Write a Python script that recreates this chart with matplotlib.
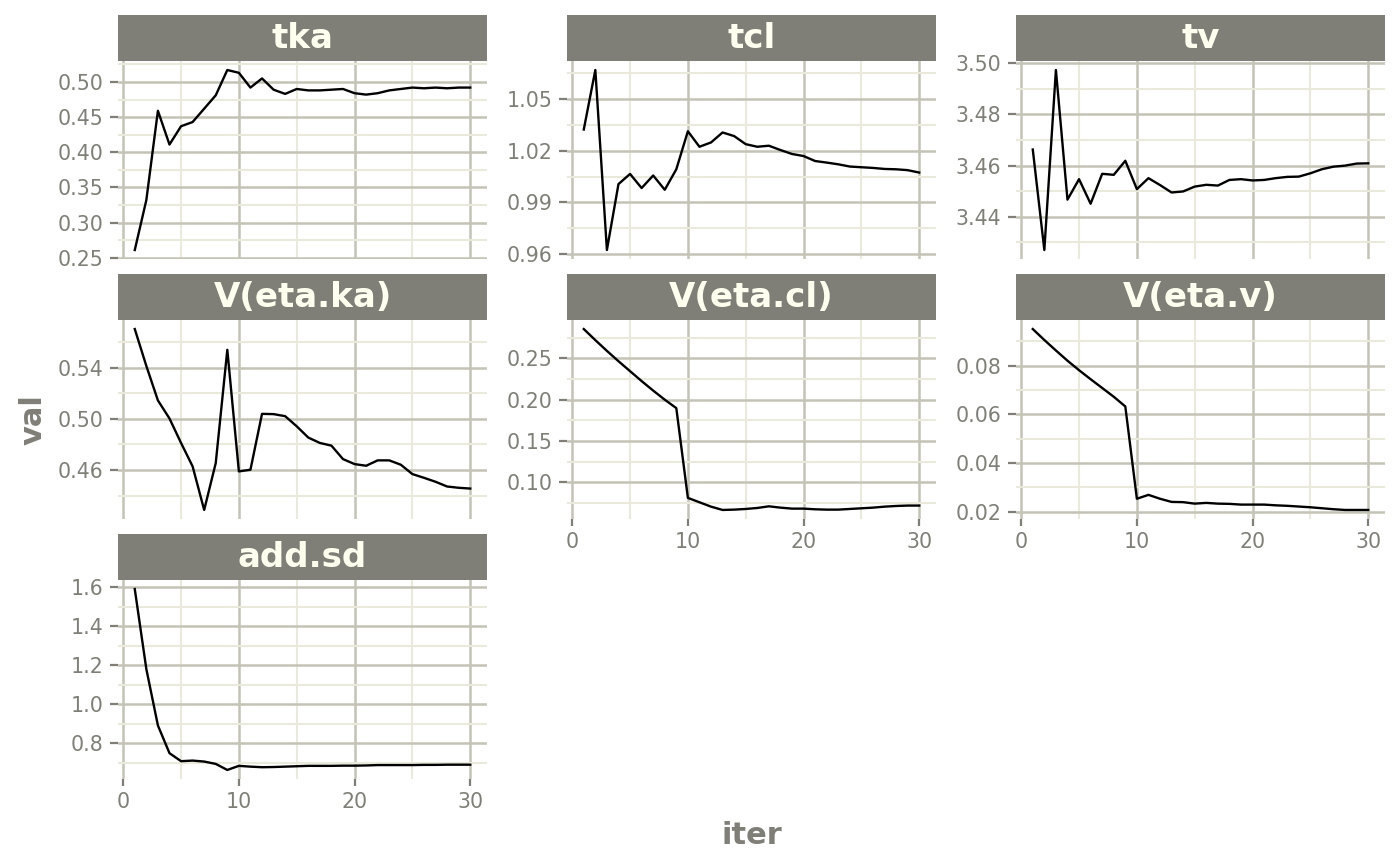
import matplotlib
matplotlib.use("Agg")
import matplotlib.pyplot as plt
from matplotlib.ticker import FixedLocator, MultipleLocator, FormatStrFormatter

# --- data (30 iterations) ---
iters = list(range(1, 31))

tka = [0.261, 0.332, 0.459, 0.411, 0.437, 0.443, 0.462, 0.481, 0.517, 0.513,
       0.492, 0.505, 0.489, 0.483, 0.490, 0.488, 0.488, 0.489, 0.490, 0.484,
       0.482, 0.484, 0.488, 0.490, 0.492, 0.491, 0.492, 0.491, 0.492, 0.492]

tcl = [1.0323, 1.0669, 0.9623, 1.0006, 1.0065, 0.9983, 1.0056, 0.9973, 1.0092, 1.0313,
       1.0223, 1.0248, 1.0306, 1.0285, 1.0238, 1.0223, 1.0229, 1.0204, 1.0181, 1.0169,
       1.0140, 1.0131, 1.0121, 1.0108, 1.0104, 1.0100, 1.0094, 1.0092, 1.0087, 1.0073]

tv = [3.4663, 3.4270, 3.4974, 3.4467, 3.4547, 3.4451, 3.4568, 3.4564, 3.4619, 3.4508,
      3.4551, 3.4524, 3.4495, 3.4499, 3.4518, 3.4525, 3.4522, 3.4544, 3.4547, 3.4542,
      3.4544, 3.4551, 3.4556, 3.4557, 3.4570, 3.4586, 3.4596, 3.4600, 3.4608, 3.4609]

eta_ka = [0.5701, 0.5413, 0.5144, 0.5003, 0.4812, 0.4629, 0.4289, 0.4655, 0.5539, 0.4590,
          0.4603, 0.5039, 0.5037, 0.5021, 0.4942, 0.4854, 0.4812, 0.4791, 0.4686, 0.4647,
          0.4634, 0.4676, 0.4676, 0.4642, 0.4569, 0.4540, 0.4509, 0.4472, 0.4462, 0.4456]

eta_cl = [0.2854, 0.2720, 0.2590, 0.2465, 0.2345, 0.2225, 0.2110, 0.2000, 0.1898, 0.0813,
          0.0760, 0.0707, 0.0667, 0.0671, 0.0679, 0.0691, 0.0711, 0.0695, 0.0683, 0.0683,
          0.0675, 0.0671, 0.0671, 0.0679, 0.0687, 0.0695, 0.0707, 0.0715, 0.0720, 0.0720]

eta_v = [0.0950, 0.0905, 0.0862, 0.0820, 0.0781, 0.0744, 0.0708, 0.0672, 0.0632, 0.0253,
         0.0269, 0.0253, 0.0240, 0.0239, 0.0233, 0.0236, 0.0233, 0.0232, 0.0229, 0.0229,
         0.0229, 0.0226, 0.0224, 0.0221, 0.0218, 0.0214, 0.0210, 0.0207, 0.0207, 0.0207]

add_sd = [1.590, 1.180, 0.891, 0.749, 0.708, 0.711, 0.706, 0.694, 0.663, 0.684,
          0.680, 0.677, 0.678, 0.680, 0.682, 0.684, 0.684, 0.684, 0.685, 0.685,
          0.686, 0.688, 0.688, 0.688, 0.688, 0.689, 0.689, 0.690, 0.690, 0.690]

names = ["tka", "tcl", "tv", "V(eta.ka)", "V(eta.cl)", "V(eta.v)", "add.sd"]
series = [tka, tcl, tv, eta_ka, eta_cl, eta_v, add_sd]
ybreaks = [
    [0.25, 0.30, 0.35, 0.40, 0.45, 0.50],
    [0.96, 0.99, 1.02, 1.05],
    [3.44, 3.46, 3.48, 3.50],
    [0.46, 0.50, 0.54],
    [0.10, 0.15, 0.20, 0.25],
    [0.02, 0.04, 0.06, 0.08],
    [0.8, 1.0, 1.2, 1.4, 1.6],
]
yfmts = ["%.2f", "%.2f", "%.2f", "%.2f", "%.2f", "%.2f", "%.1f"]

STRIP = "#7f7f77"
STRIP_TXT = "#fffff0"
GRID_MAJ = "#c3c3b6"
GRID_MIN = "#e9e9dc"
TXT = "#7f7f77"

W, H = 1400, 866
fig = plt.figure(figsize=(W / 100, H / 100), dpi=100)

col_left = [118, 567, 1016]
col_w = 369
# (strip top, panel top, panel bottom) in pixels from the top
rows = [(15, 61, 259), (274, 320, 519), (534, 580, 779)]


def px_rect(left, top, width, height):
    return [left / W, (H - top - height) / H, width / W, height / H]


for i, (name, vals) in enumerate(zip(names, series)):
    r, c = divmod(i, 3)
    s_top, p_top, p_bot = rows[r]
    ax = fig.add_axes(px_rect(col_left[c], p_top, col_w, p_bot - p_top))
    ax.plot(iters, vals, color="black", lw=1.7, zorder=3)
    ax.set_xlim(-0.45, 31.45)
    lo, hi = min(vals), max(vals)
    pad = (hi - lo) * 0.05
    ax.set_ylim(lo - pad, hi + pad)

    br = ybreaks[i]
    step = br[1] - br[0]
    minors = [br[0] - step / 2] + [b + step / 2 for b in br]
    ax.xaxis.set_major_locator(MultipleLocator(10))
    ax.xaxis.set_minor_locator(MultipleLocator(5))
    ax.yaxis.set_major_locator(FixedLocator(br))
    ax.yaxis.set_minor_locator(FixedLocator(minors))
    ax.yaxis.set_major_formatter(FormatStrFormatter(yfmts[i]))

    ax.grid(which="major", color=GRID_MAJ, lw=1.8)
    ax.grid(which="minor", color=GRID_MIN, lw=1.5)
    ax.set_axisbelow(True)
    for sp in ax.spines.values():
        sp.set_visible(False)
    ax.set_facecolor("white")

    ax.tick_params(which="minor", length=0)
    ax.tick_params(axis="y", which="major", length=6, width=1.6, color=TXT,
                   labelcolor=TXT, labelsize=14.8, pad=4.5)
    if r == 2 or i >= 4:
        ax.tick_params(axis="x", which="major", length=5, width=1.6, color=TXT,
                       labelcolor=TXT, labelsize=14.8, pad=4)
    else:
        ax.tick_params(axis="x", which="major", length=0, labelbottom=False)

    # facet strip
    sax = fig.add_axes(px_rect(col_left[c], s_top, col_w, p_top - s_top))
    sax.set_facecolor(STRIP)
    sax.set_xticks([])
    sax.set_yticks([])
    for sp in sax.spines.values():
        sp.set_visible(False)
    sax.text(0.5, 0.48, name, ha="center", va="center", color=STRIP_TXT,
             fontsize=24.5, fontweight="bold", transform=sax.transAxes)

fig.text(752 / W, 1 - 835 / H, "iter", ha="center", va="center",
         color=TXT, fontsize=22, fontweight="bold")
fig.text(33 / W, 1 - 420 / H, "val", ha="center", va="center", rotation=90,
         color=TXT, fontsize=22, fontweight="bold")

fig.savefig("out.png", dpi=100, facecolor="white")
